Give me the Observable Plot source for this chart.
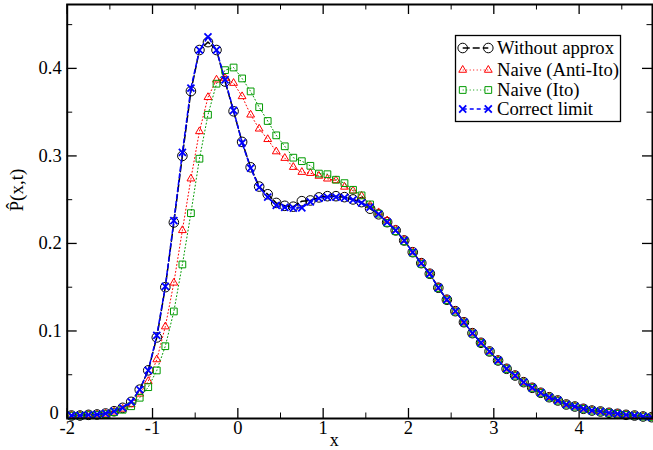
<!DOCTYPE html>
<html>
<head>
<meta charset="utf-8">
<script src="https://cdn.jsdelivr.net/npm/d3@7"></script>
<script src="https://cdn.jsdelivr.net/npm/@observablehq/plot@0.6"></script>
<style>
  html, body { margin: 0; padding: 0; background: white; }
  #wrap { position: relative; width: 653px; height: 450px; font-family: "Liberation Serif", Tinos, "Times New Roman", Times, "DejaVu Serif", "Noto Serif", serif; }
  #wrap svg text { font-family: "Liberation Serif", Tinos, "Times New Roman", Times, "DejaVu Serif", "Noto Serif", serif !important; }
  #legend { position: absolute; left: 0; top: 0; }
</style>
</head>
<body>
<div id="wrap"></div>
<script>
// ---- data ----
const xs = [-1.95,-1.85,-1.75,-1.65,-1.55,-1.45,-1.35,-1.25,-1.15,-1.05,
  -0.95,-0.85,-0.75,-0.65,-0.55,-0.45,-0.35,-0.25,-0.15,-0.05,
  0.05,0.15,0.25,0.35,0.45,0.55,0.65,0.75,0.85,0.95,
  1.05,1.15,1.25,1.35,1.45,1.55,1.65,1.75,1.85,1.95,
  2.05,2.15,2.25,2.35,2.45,2.55,2.65,2.75,2.85,2.95,
  3.05,3.15,3.25,3.35,3.45,3.55,3.65,3.75,3.85,3.95,
  4.05,4.15,4.25,4.35,4.45,4.55,4.65,4.75,4.85];

const withoutApprox = [0.0034,0.0034,0.0042,0.0046,0.0057,0.0083,0.0122,0.019,0.033,0.055,
  0.0926,0.150,0.224,0.300,0.374,0.421,0.430,0.421,0.385,0.351,
  0.316,0.287,0.265,0.2562,0.2463,0.2430,0.2420,0.2483,0.2491,0.2526,
  0.2540,0.2540,0.2529,0.2503,0.2472,0.2397,0.2333,0.2243,0.2149,0.2034,
  0.1900,0.1775,0.1654,0.1494,0.1357,0.1226,0.1100,0.0975,0.0865,0.0766,
  0.0663,0.0568,0.0491,0.0415,0.0351,0.0294,0.0243,0.0206,0.0160,0.0137,
  0.0111,0.0091,0.0080,0.0065,0.0054,0.0042,0.0034,0.0023,0.0015];

const naiveAntiIto = [0.0034,0.0034,0.0040,0.0045,0.0053,0.0077,0.0110,0.0160,0.0282,0.0426,
  0.0674,0.105,0.155,0.215,0.274,0.328,0.367,0.387,0.389,0.3832,
  0.368,0.347,0.331,0.319,0.305,0.2975,0.2872,0.2815,0.2803,0.2771,
  0.2739,0.2720,0.2646,0.2602,0.2543,0.2434,0.2354,0.2262,0.2160,0.2040,
  0.1905,0.1780,0.1658,0.1497,0.1360,0.1229,0.1102,0.0977,0.0866,0.0767,
  0.0665,0.0569,0.0493,0.0416,0.0352,0.0295,0.0244,0.0206,0.0161,0.0137,
  0.0111,0.0091,0.0080,0.0065,0.0054,0.0042,0.0034,0.0023,0.0015];

const naiveIto = [0.0033,0.0033,0.0039,0.0043,0.0050,0.0072,0.0100,0.0140,0.0237,0.0358,
  0.0549,0.0826,0.1223,0.176,0.2346,0.2968,0.347,0.3825,0.398,0.401,
  0.3885,0.3737,0.3557,0.3399,0.3235,0.311,0.298,0.294,0.2887,0.2798,
  0.2791,0.2728,0.2689,0.2613,0.2549,0.2446,0.2340,0.2235,0.2140,0.2025,
  0.1893,0.1768,0.1648,0.1490,0.1352,0.1222,0.1096,0.0971,0.0862,0.0763,
  0.0660,0.0565,0.0489,0.0413,0.0349,0.0292,0.0241,0.0204,0.0159,0.0136,
  0.0110,0.0090,0.0079,0.0064,0.0053,0.0041,0.0033,0.0022,0.0014];

const correctLimit = [0.0034,0.0034,0.0042,0.0046,0.0057,0.0083,0.0122,0.019,0.033,0.055,
  0.0949,0.151,0.226,0.304,0.3775,0.421,0.436,0.421,0.387,0.352,
  0.315,0.286,0.264,0.2530,0.2435,0.2412,0.2405,0.2408,0.2475,0.2515,
  0.2530,0.2530,0.2522,0.2497,0.2463,0.2415,0.2335,0.2243,0.2149,0.2034,
  0.1900,0.1775,0.1654,0.1494,0.1357,0.1226,0.1100,0.0975,0.0865,0.0766,
  0.0663,0.0568,0.0491,0.0415,0.0351,0.0294,0.0243,0.0206,0.0160,0.0137,
  0.0111,0.0091,0.0080,0.0065,0.0054,0.0042,0.0034,0.0023,0.0015];

const seriesNames = ["Without approx", "Naive (Anti-Ito)", "Naive (Ito)", "Correct limit"];
const xMajorTicks = [-2, -1, 0, 1, 2, 3, 4];
const xMinorTicks = [-1.5, -0.5, 0.5, 1.5, 2.5, 3.5, 4.5];
const yMajorTicks = [0, 0.1, 0.2, 0.3, 0.4];
const yMinorTicks = [0.05, 0.15, 0.25, 0.35, 0.45];
const yTickLabels = ["0", "0.1", "0.2", "0.3", "0.4"];
const xTickLabels = ["-2", "-1", "0", "1", "2", "3", "4"];

// ---- build ----
const W = 653, H = 450;
const mL = 66.7, mR = 1, mT = 4, mB = 32;
const pw = W - mL - mR, ph = H - mT - mB;
const toRows = arr => xs.map((x, i) => ({x, y: arr[i]}));
const black = toRows(withoutApprox), red = toRows(naiveAntiIto), green = toRows(naiveIto), blue = toRows(correctLimit);
const GREEN = "#009a00";
const font = '"Liberation Serif", Tinos, "Times New Roman", Times, "DejaVu Serif", "Noto Serif", serif';
const yLabelOf = d => yTickLabels[yMajorTicks.indexOf(d)];

const chart = Plot.plot({
  width: W, height: H,
  marginLeft: mL, marginRight: mR, marginTop: mT, marginBottom: mB,
  x: {domain: [-2, 4.86]},
  y: {domain: [0, 0.473]},
  style: {fontFamily: font, fontSize: "18.5px", background: "white", color: "black"},
  marks: [
    // ticks (inward, on all four sides)
    Plot.tickX(xMajorTicks, {x: d => d, insetTop: ph - 10, stroke: "black", strokeWidth: 1.3}),
    Plot.tickX(xMajorTicks, {x: d => d, insetBottom: ph - 10, stroke: "black", strokeWidth: 1.3}),
    Plot.tickX(xMinorTicks, {x: d => d, insetTop: ph - 5.5, stroke: "black", strokeWidth: 1}),
    Plot.tickX(xMinorTicks, {x: d => d, insetBottom: ph - 5.5, stroke: "black", strokeWidth: 1}),
    Plot.tickY(yMajorTicks, {y: d => d, insetRight: pw - 10, stroke: "black", strokeWidth: 1.3}),
    Plot.tickY(yMajorTicks, {y: d => d, insetLeft: pw - 10, stroke: "black", strokeWidth: 1.3}),
    Plot.tickY(yMinorTicks, {y: d => d, insetRight: pw - 5.5, stroke: "black", strokeWidth: 1}),
    Plot.tickY(yMinorTicks, {y: d => d, insetLeft: pw - 5.5, stroke: "black", strokeWidth: 1}),
    Plot.axisX(xMajorTicks, {tickSize: 0, tickPadding: 2, tickFormat: (d, i) => xTickLabels[i], label: null, fontSize: 18.5}),
    Plot.axisY(yMajorTicks.slice(1), {tickSize: 0, tickPadding: 5.5, tickFormat: yLabelOf, label: null, fontSize: 18.5}),
    Plot.axisY(yMajorTicks.slice(0, 1), {tickSize: 0, tickPadding: 8.5, dy: -5, tickFormat: yLabelOf, label: null, fontSize: 18.5}),
    // series
    Plot.line(black, {x: "x", y: "y", stroke: "black", strokeWidth: 1.5, strokeDasharray: "7,3"}),
    Plot.dot(black, {x: "x", y: "y", symbol: "circle", r: 4.8, stroke: "black", fill: "none", strokeWidth: 1}),
    Plot.line(red, {x: "x", y: "y", stroke: "red", strokeWidth: 1, strokeDasharray: "1,2.5"}),
    Plot.dot(red, {x: "x", y: "y", symbol: "triangle", r: 2.9, stroke: "red", fill: "none", strokeWidth: 1}),
    Plot.line(green, {x: "x", y: "y", stroke: GREEN, strokeWidth: 1, strokeDasharray: "1,2.5"}),
    Plot.dot(green, {x: "x", y: "y", symbol: "square", r: 3.8, stroke: GREEN, fill: "none", strokeWidth: 1}),
    Plot.line(blue, {x: "x", y: "y", stroke: "blue", strokeWidth: 1.5, strokeDasharray: "4,3"}),
    Plot.dot(blue, {x: "x", y: "y", symbol: "times", r: 3.3, stroke: "blue", fill: "none", strokeWidth: 1.8}),
    Plot.frame({stroke: "black", strokeWidth: 2}),
    // axis titles
    Plot.text(["x"], {frameAnchor: "bottom", dx: -25.5, dy: 27, fontSize: 18, text: d => d}),
    Plot.text(["P\u0302(x,t)"], {frameAnchor: "left", dx: -50.7, rotate: -90, fontSize: 19, text: d => d})
  ]
});

const wrap = document.getElementById("wrap");
wrap.appendChild(chart);

// ---- legend overlay ----
const ns = "http://www.w3.org/2000/svg";
const leg = d3.select(wrap).append("svg").attr("id", "legend")
  .attr("width", W).attr("height", H).attr("xmlns", ns);
leg.append("rect").attr("x", 455.5).attr("y", 35.5).attr("width", 165).attr("height", 86)
  .attr("fill", "white").attr("stroke", "black").attr("stroke-width", 1.3);
const rowsY = [48, 70, 90, 109];
const styles = [
  {stroke: "black", dash: "7,3", lw: 1.5, sym: d3.symbolCircle, size: Math.PI * 4.8 * 4.8, sw: 1},
  {stroke: "red", dash: "1,2.5", lw: 1, sym: d3.symbolTriangle, size: Math.PI * 2.9 * 2.9, sw: 1},
  {stroke: GREEN, dash: "1,2.5", lw: 1, sym: d3.symbolSquare, size: Math.PI * 3.8 * 3.8, sw: 1},
  {stroke: "blue", dash: "4,3", lw: 1.5, sym: d3.symbolTimes, size: Math.PI * 3.3 * 3.3, sw: 1.8}
];
seriesNames.forEach((name, i) => {
  const s = styles[i], y = rowsY[i];
  leg.append("line").attr("x1", 462.7).attr("x2", 488.3).attr("y1", y).attr("y2", y)
    .attr("stroke", s.stroke).attr("stroke-width", s.lw).attr("stroke-dasharray", s.dash);
  [462.7, 488.3].forEach(cx => {
    leg.append("path").attr("d", d3.symbol(s.sym, s.size)())
      .attr("transform", `translate(${cx},${y})`)
      .attr("fill", "none").attr("stroke", s.stroke).attr("stroke-width", s.sw);
  });
  leg.append("text").attr("x", 497).attr("y", y + 6).text(name)
    .style("font-family", font).attr("font-size", 18.7).attr("fill", "black");
});
</script>
</body>
</html>
